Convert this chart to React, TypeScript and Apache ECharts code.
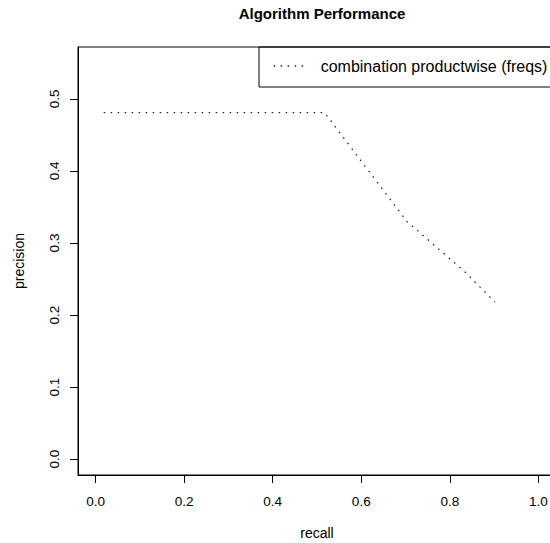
import React, { useEffect, useRef } from "react";
import * as echarts from "echarts";

const seriesName = "combination productwise (freqs)";
const recall = [0.018, 0.517, 0.703, 0.834, 0.902];
const precision = [0.481, 0.481, 0.33, 0.26, 0.218];
const xTicks = [0, 0.2, 0.4, 0.6, 0.8, 1.0];
const yTicks = [0, 0.1, 0.2, 0.3, 0.4, 0.5];

const FONT = "'Liberation Sans', Arial, Helvetica, sans-serif";

export default function App() {
  const ref = useRef<HTMLDivElement>(null);
  useEffect(() => {
    if (!ref.current) return;
    const chart = echarts.init(ref.current, undefined, { renderer: "svg" });
    const data = recall.map((r, i) => [r, precision[i]]);
    chart.setOption({
      animation: false,
      backgroundColor: "#ffffff",
      textStyle: { fontFamily: FONT, color: "#000" },
      title: {
        text: "Algorithm Performance",
        left: 317,
        top: 1,
        textAlign: "center",
        textStyle: { fontFamily: FONT, fontSize: 15, fontWeight: "bold", color: "#000" },
      },
      grid: {
        left: 78,
        top: 47,
        width: 478,
        height: 428,
        show: true,
        borderColor: "#000",
        borderWidth: 1,
        containLabel: false,
        outerBoundsMode: "none",
      },
      legend: {
        left: 273,
        top: 58,
        padding: 0,
        itemWidth: 32,
        itemHeight: 14,
        data: [seriesName],
        itemStyle: { opacity: 0 },
        lineStyle: { color: "#222", width: 1.3, type: [1.5, 5.5], cap: "butt" },
        textStyle: { fontFamily: FONT, fontSize: 16, color: "#000", padding: [0, 0, 0, 10] },
      },
      xAxis: {
        type: "value",
        min: -0.04,
        max: 1.04,
        name: "recall",
        nameLocation: "middle",
        nameGap: 51,
        nameTextStyle: { fontFamily: FONT, fontSize: 14, color: "#000" },
        splitLine: { show: false },
        axisLine: { show: true, onZero: false, lineStyle: { color: "#000", width: 1 } },
        axisTick: { show: true, length: 8, customValues: xTicks, lineStyle: { color: "#000" } },
        axisLabel: {
          customValues: xTicks,
          margin: 19,
          fontFamily: FONT,
          fontSize: 13.5,
          color: "#000",
          formatter: (v: number) => v.toFixed(1),
        },
      },
      yAxis: {
        type: "value",
        min: -0.022,
        max: 0.572,
        name: "precision",
        nameLocation: "middle",
        nameGap: 52,
        nameRotate: 90,
        nameTextStyle: { fontFamily: FONT, fontSize: 14, color: "#000" },
        splitLine: { show: false },
        axisLine: { show: true, onZero: false, lineStyle: { color: "#000", width: 1 } },
        axisTick: { show: true, length: 8, customValues: yTicks, lineStyle: { color: "#000" } },
        axisLabel: {
          customValues: yTicks,
          rotate: 90,
          margin: 17,
          fontFamily: FONT,
          fontSize: 13.5,
          color: "#000",
          formatter: (v: number) => v.toFixed(1),
        },
      },
      graphic: [
        {
          type: "rect",
          shape: { x: 259, y: 47, width: 320, height: 40 },
          style: { fill: "none", stroke: "#000", lineWidth: 1 },
          silent: true,
        },
      ],
      series: [
        {
          name: seriesName,
          type: "line",
          data,
          symbol: "none",
          color: "#222",
          itemStyle: { color: "#222" },
          lineStyle: { color: "#222", width: 1.3, type: [1.5, 5.5], cap: "butt" },
        },
      ],
    });
    return () => chart.dispose();
  }, []);
  return (
    <div
      ref={ref}
      style={{ position: "fixed", left: 0, top: 0, width: 550, height: 543, background: "#fff" }}
    />
  );
}
